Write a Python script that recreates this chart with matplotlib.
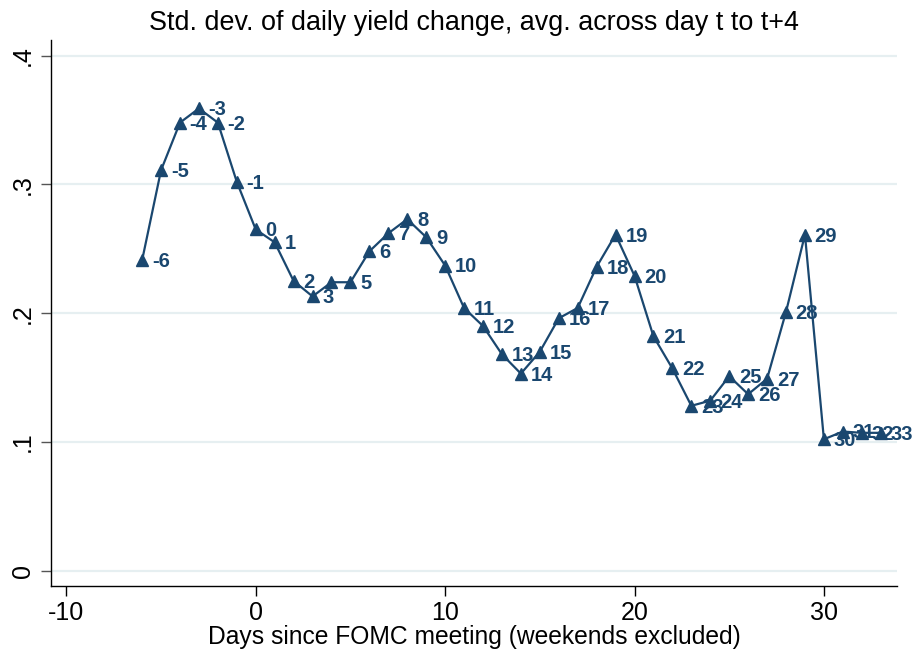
import matplotlib
matplotlib.use("Agg")
import matplotlib.pyplot as plt

plt.rcParams['font.family'] = ['Liberation Sans', 'DejaVu Sans']

days = list(range(-6, 34))
std_dev = [0.241, 0.311, 0.348, 0.359, 0.348, 0.302, 0.265, 0.255, 0.225, 0.213,
           0.224, 0.224, 0.248, 0.262, 0.273, 0.259, 0.237, 0.204, 0.190, 0.168,
           0.153, 0.170, 0.196, 0.204, 0.236, 0.261, 0.229, 0.182, 0.157, 0.128,
           0.132, 0.151, 0.137, 0.149, 0.201, 0.261, 0.102, 0.108, 0.107, 0.107]
# the reference shows no marker label at day 4
point_labels = ['' if d == 4 else str(d) for d in days]
xticks = [-10, 0, 10, 20, 30]
yticks = [0, 0.1, 0.2, 0.3, 0.4]
ytick_labels = ['0', '.1', '.2', '.3', '.4']

navy = '#1a476f'

fig = plt.figure(figsize=(9.14, 6.58), dpi=100)
ax = fig.add_axes([51/914, 1-586/658, (897-51)/914, (586-40)/658])

ax.plot(days, std_dev, color=navy, lw=1.6, marker='^', markersize=9,
        markerfacecolor=navy, markeredgecolor=navy, zorder=3)
for x, y, lab in zip(days, std_dev, point_labels):
    if lab:
        ax.annotate(lab, (x, y), xytext=(7, -1), textcoords='offset points',
                    ha='left', va='center', fontsize=14.5, fontweight='bold',
                    color=navy, zorder=4)

ax.set_xlim(-10.81, 33.86)
ax.set_ylim(-0.012, 0.4122)
ax.set_xticks(xticks)
ax.set_xticklabels([str(t) for t in xticks])
ax.set_yticks(yticks)
ax.set_yticklabels(ytick_labels, rotation=90, va='center')
ax.tick_params(axis='both', labelsize=18, length=7.5, width=1, direction='out')
ax.tick_params(axis='x', pad=3.5)
ax.tick_params(axis='y', pad=4, color='#555555')
ax.grid(axis='y', color='#e6eff1', lw=1.6, zorder=0)
ax.set_axisbelow(True)
for s in ['top', 'right']:
    ax.spines[s].set_visible(False)
for s in ['left', 'bottom']:
    ax.spines[s].set_linewidth(1)
    ax.spines[s].set_color('black')

ax.set_xlabel('Days since FOMC meeting (weekends excluded)', fontsize=17.7, labelpad=0)
ax.set_title('Std. dev. of daily yield change, avg. across day t to t+4', fontsize=19.4, pad=7.5)

fig.savefig('out.png', dpi=100)
